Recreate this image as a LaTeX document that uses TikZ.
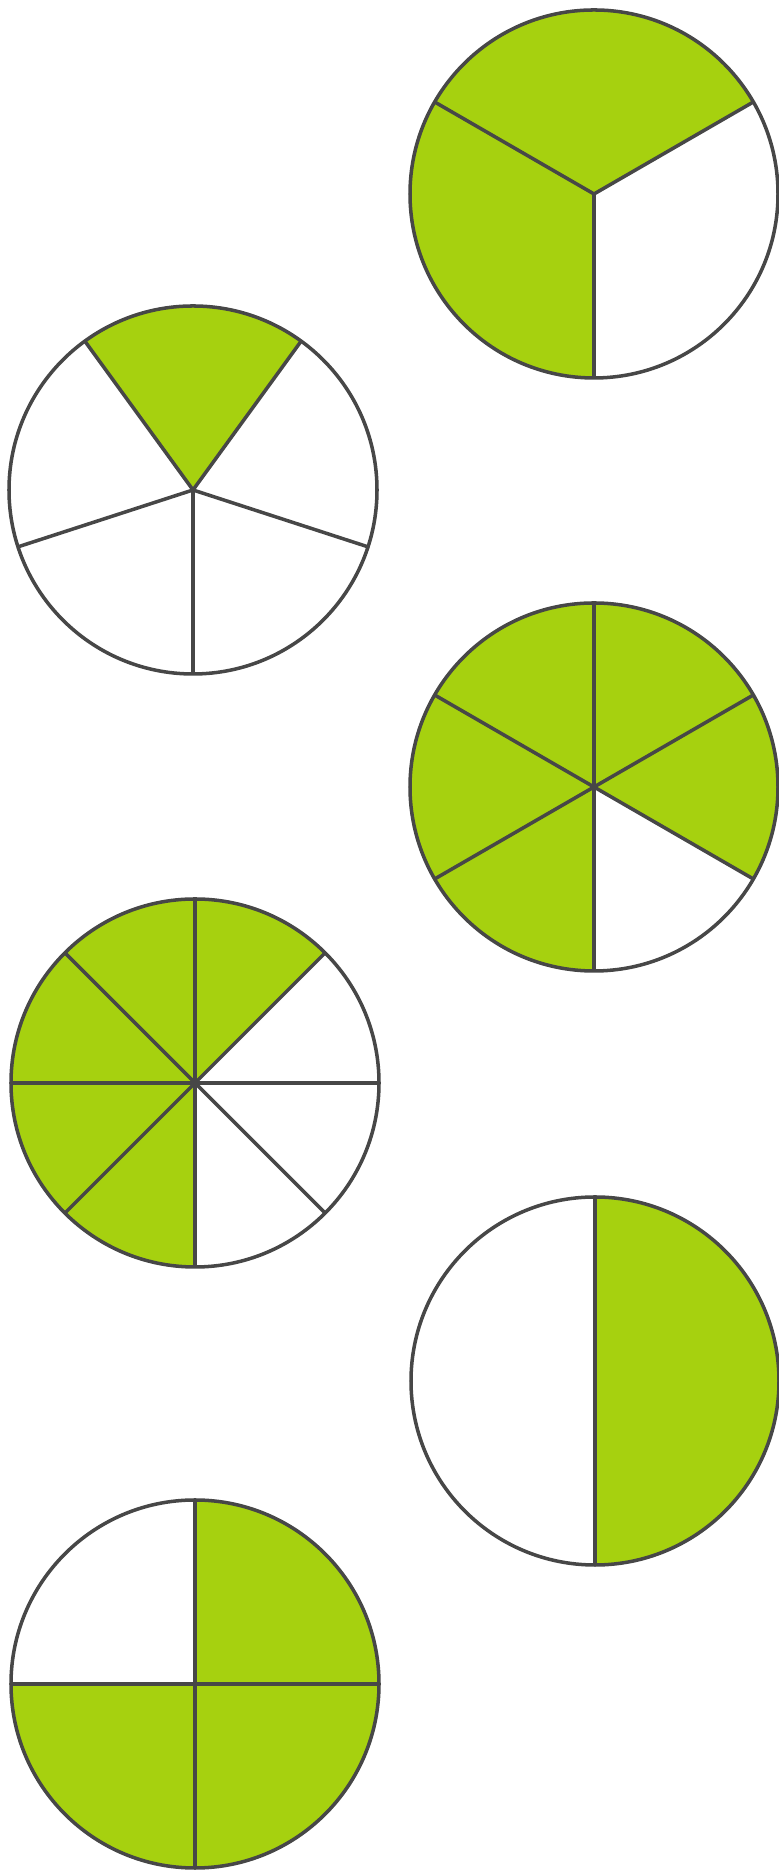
\documentclass[tikz,border=0pt]{standalone}
\usepackage{tikz}
\usetikzlibrary{calc}
\definecolor{piegreen}{HTML}{A6D10F}
\definecolor{pieline}{HTML}{474747}
\tikzset{
  line cap=round,
  line join=round,
  rim/.style={draw=pieline, line width=1pt},
  spoke/.style={draw=pieline, line width=1pt},
  slice/.style={fill=piegreen}
}
\begin{document}
\begin{tikzpicture}[x=0.01cm, y=0.01cm]
\useasboundingbox (0,0) rectangle (779,1870);

% 원의 중심: 번호/x/y/조각 수/첫 경계각/색칠 시작각/색칠 끝각
\foreach \i/\cx/\cy/\n/\off/\ga/\gb in {
    1/594/1676/3/30/30/270,
    2/193/1380/5/54/54/126,
    3/594/1083/6/30/330/630,
    4/195/787/8/0/45/270,
    5/595/489/2/90/-90/90,
    6/195/186/4/0/180/450}
{
  \coordinate (c\i) at (\cx,\cy);

  % 색칠한 부분
  \fill[slice] (c\i) -- ++(\ga:184) arc[start angle=\ga, end angle=\gb, radius=184] -- cycle;

  % 경계선
  \foreach \k in {1,...,\n} {
    \pgfmathsetmacro{\ang}{\off+(\k-1)*360/\n}
    \draw[spoke] (c\i) -- ++(\ang:184);
  }

  % 원
  \draw[rim] (c\i) circle[radius=184];
}

\end{tikzpicture}
\end{document}
